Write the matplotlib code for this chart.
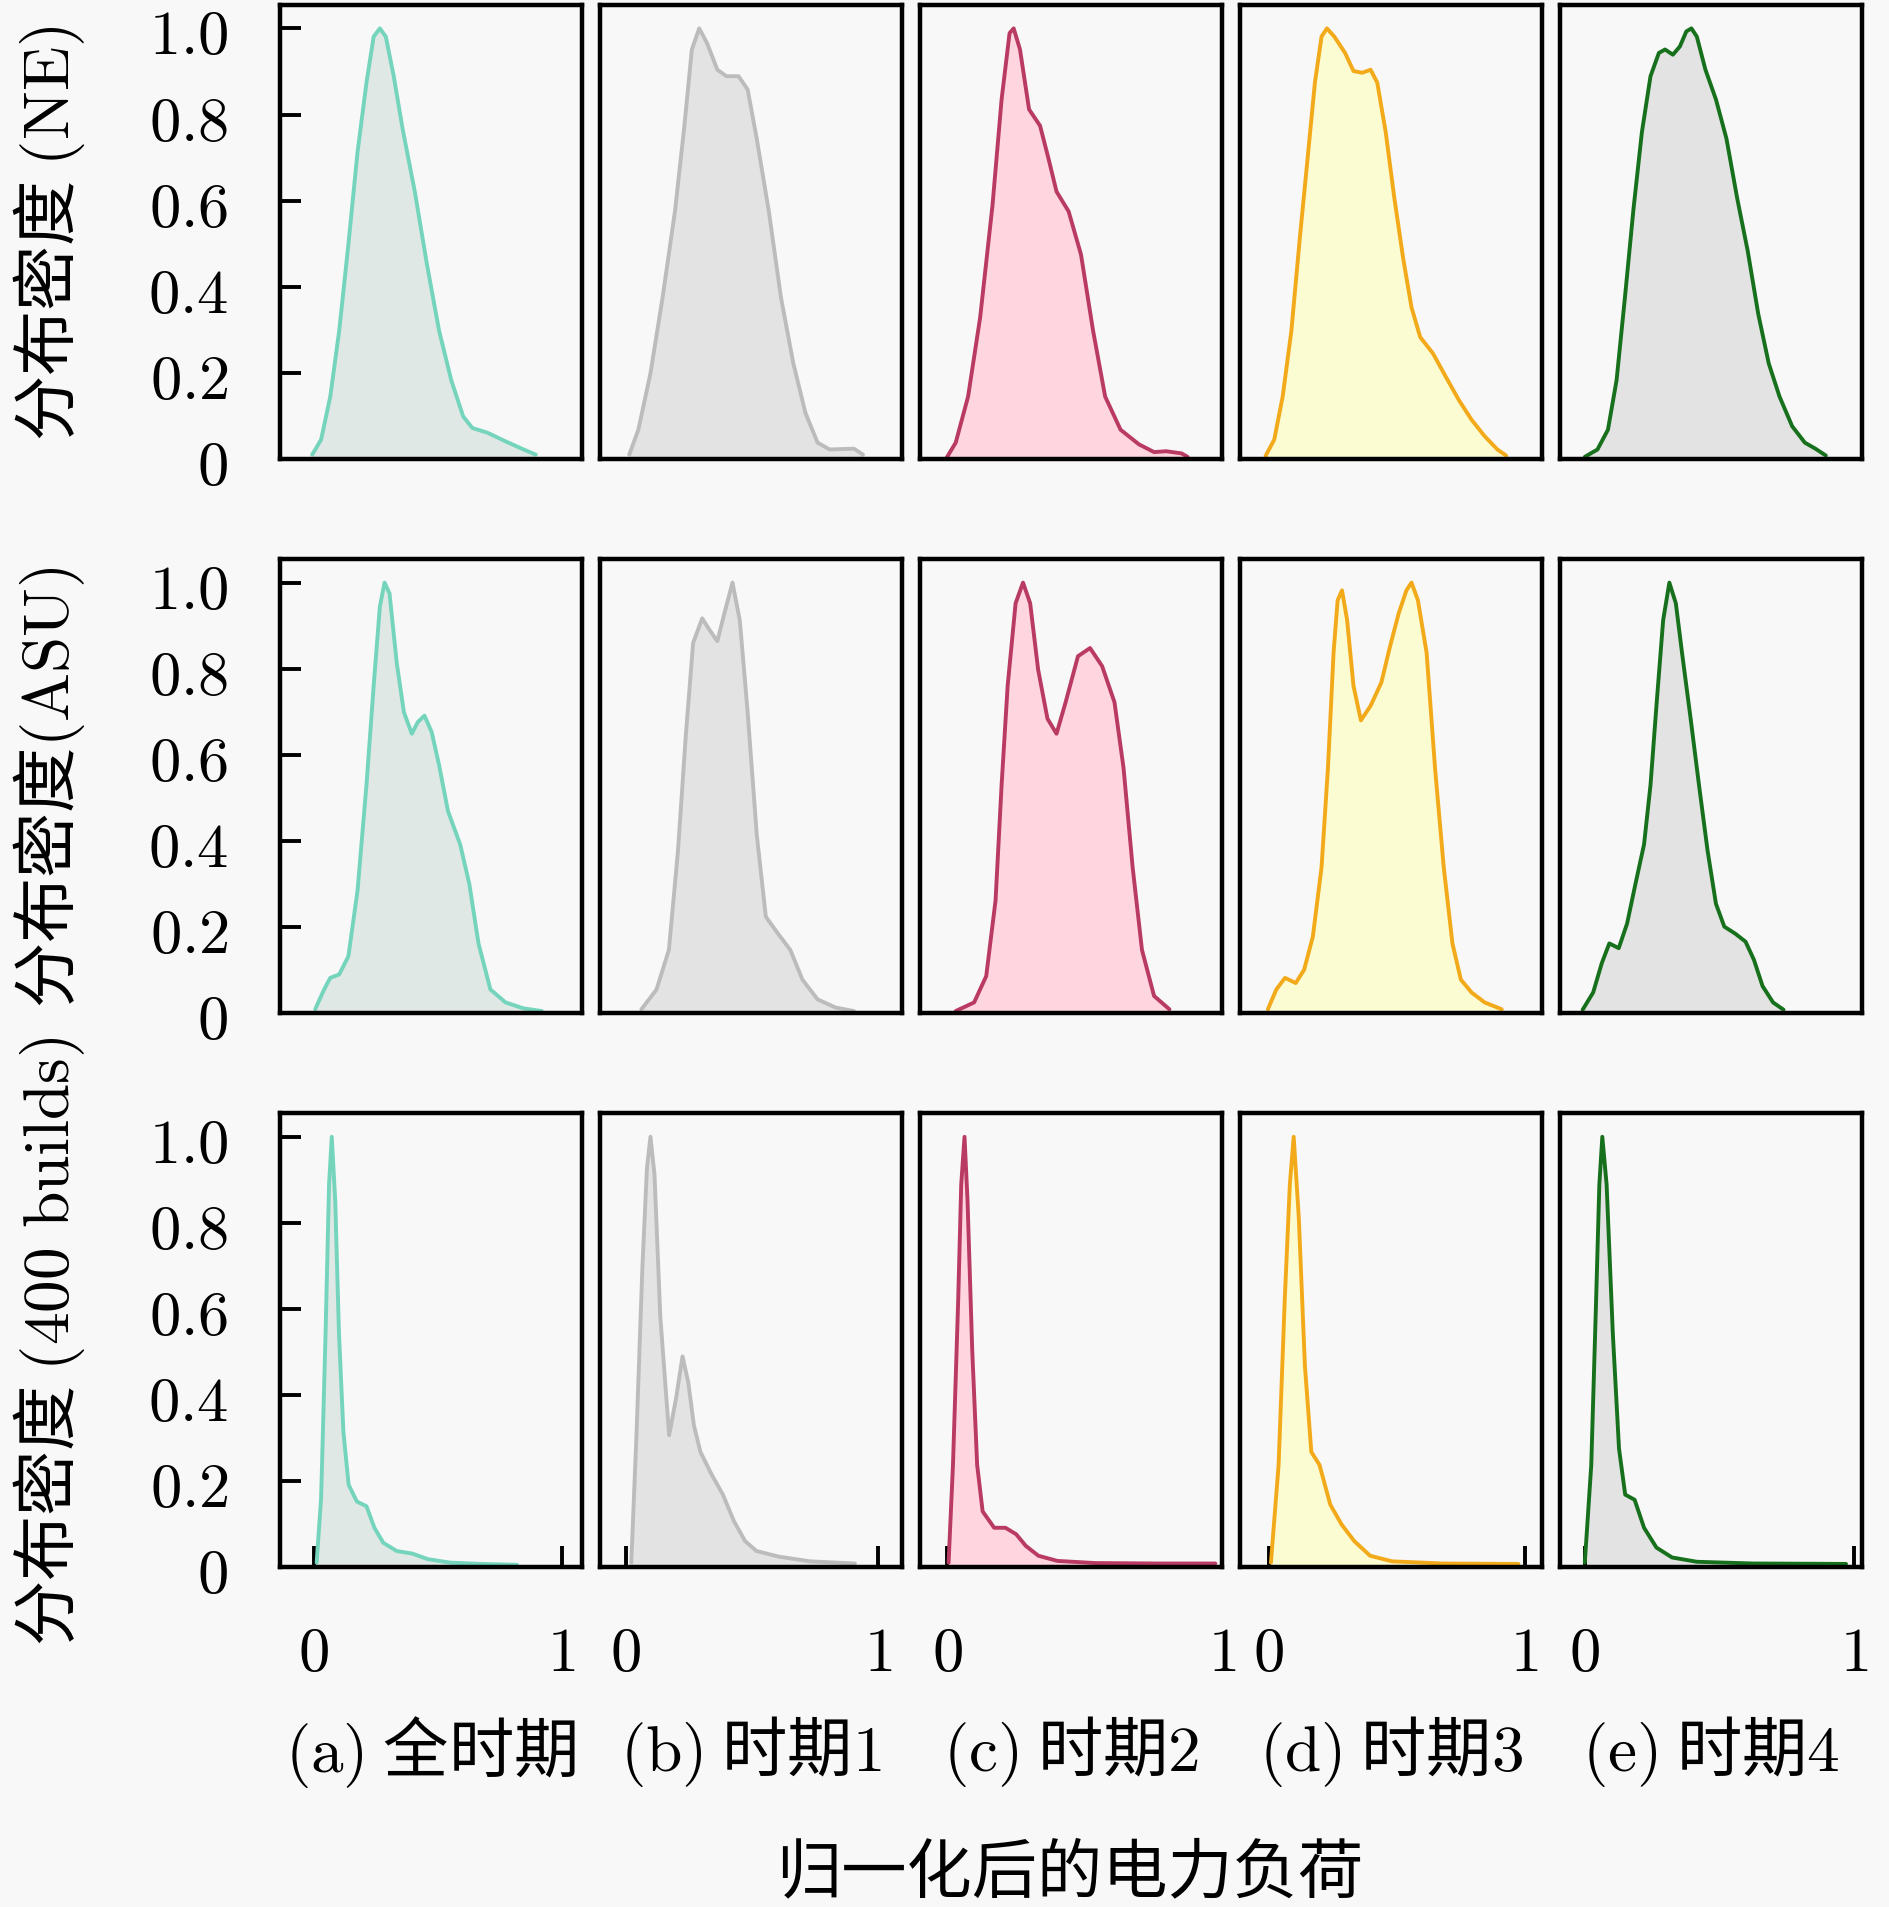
import matplotlib
matplotlib.use('Agg')
import matplotlib.pyplot as plt

plt.rcParams['mathtext.fontset'] = 'cm'
plt.rcParams['font.family'] = ['Noto Sans CJK SC', 'DejaVu Sans']

# panel titles and row labels
col_titles = [r'$\mathrm{(a)}$ 全时期', r'$\mathrm{(b)}$ 时期$1$', r'$\mathrm{(c)}$ 时期$2$',
              r'$\mathrm{(d)}$ 时期$3$', r'$\mathrm{(e)}$ 时期$4$']
row_labels = [r'分布密度 $\mathrm{(NE)}$', r'分布密度$\mathrm{(ASU)}$', r'分布密度 $\mathrm{(400\ builds)}$']
xlabel = '归一化后的电力负荷'
yticks = [0, 0.2, 0.4, 0.6, 0.8, 1.0]
ytick_labels = ['$0$', '$0.2$', '$0.4$', '$0.6$', '$0.8$', '$1.0$']
xticks = [0, 1]
xtick_labels = ['$0$', '$1$']

# ---- row 1: NE ----
ne_all_x = [-0.006, 0.03, 0.067, 0.103, 0.14, 0.177, 0.213, 0.242, 0.267, 0.291, 0.323, 0.359, 0.408,
            0.457, 0.506, 0.555, 0.603, 0.64, 0.701, 0.774, 0.847, 0.896]
ne_all_y = [0.01, 0.045, 0.145, 0.298, 0.498, 0.713, 0.874, 0.981, 1.0, 0.981, 0.889, 0.766, 0.621,
            0.452, 0.298, 0.183, 0.099, 0.072, 0.061, 0.041, 0.022, 0.01]
ne_p1_x = [0.014, 0.05, 0.098, 0.146, 0.195, 0.231, 0.262, 0.291, 0.322, 0.363, 0.399, 0.447, 0.483,
           0.519, 0.567, 0.615, 0.664, 0.712, 0.76, 0.808, 0.904, 0.94]
ne_p1_y = [0.01, 0.068, 0.199, 0.375, 0.575, 0.766, 0.951, 1.0, 0.966, 0.904, 0.889, 0.889, 0.858,
           0.744, 0.575, 0.375, 0.222, 0.107, 0.038, 0.022, 0.024, 0.01]
ne_p2_x = [-0.001, 0.032, 0.077, 0.121, 0.166, 0.199, 0.228, 0.243, 0.266, 0.299, 0.339, 0.37, 0.399,
           0.443, 0.488, 0.532, 0.576, 0.632, 0.699, 0.754, 0.798, 0.854, 0.876]
ne_p2_y = [0.003, 0.038, 0.145, 0.329, 0.59, 0.835, 0.989, 1.0, 0.951, 0.812, 0.774, 0.697, 0.621,
           0.575, 0.475, 0.298, 0.145, 0.068, 0.034, 0.016, 0.018, 0.013, 0.005]
ne_p3_x = [-0.013, 0.021, 0.054, 0.088, 0.121, 0.155, 0.18, 0.206, 0.227, 0.256, 0.298, 0.331, 0.365,
           0.398, 0.424, 0.457, 0.491, 0.525, 0.558, 0.592, 0.642, 0.692, 0.743, 0.793, 0.844, 0.894, 0.928]
ne_p3_y = [0.007, 0.045, 0.145, 0.298, 0.513, 0.72, 0.874, 0.981, 1.0, 0.981, 0.943, 0.901, 0.897,
           0.904, 0.874, 0.759, 0.605, 0.467, 0.352, 0.283, 0.245, 0.191, 0.137, 0.091, 0.053, 0.022, 0.008]
ne_p4_x = [0.001, 0.048, 0.087, 0.119, 0.15, 0.182, 0.213, 0.245, 0.276, 0.299, 0.328, 0.354, 0.378,
           0.397, 0.417, 0.449, 0.488, 0.527, 0.567, 0.606, 0.645, 0.684, 0.724, 0.771, 0.818, 0.857, 0.896]
ne_p4_y = [0.005, 0.022, 0.068, 0.183, 0.375, 0.582, 0.759, 0.889, 0.943, 0.951, 0.939, 0.958, 0.993,
           1.0, 0.981, 0.904, 0.835, 0.744, 0.605, 0.483, 0.337, 0.222, 0.145, 0.076, 0.038, 0.024, 0.008]

# ---- row 2: ASU ----
asu_all_x = [0.006, 0.042, 0.067, 0.103, 0.14, 0.177, 0.213, 0.242, 0.267, 0.286, 0.306, 0.335, 0.364,
             0.396, 0.42, 0.447, 0.476, 0.506, 0.542, 0.591, 0.628, 0.665, 0.713, 0.774, 0.847, 0.92]
asu_all_y = [0.009, 0.055, 0.082, 0.09, 0.132, 0.285, 0.53, 0.76, 0.944, 1.0, 0.975, 0.814, 0.699,
             0.649, 0.676, 0.691, 0.653, 0.576, 0.469, 0.392, 0.3, 0.162, 0.055, 0.025, 0.011, 0.005]
asu_p1_x = [0.062, 0.122, 0.171, 0.207, 0.238, 0.267, 0.303, 0.332, 0.363, 0.394, 0.423, 0.452, 0.483,
            0.519, 0.555, 0.603, 0.652, 0.7, 0.76, 0.832, 0.904]
asu_p1_y = [0.009, 0.055, 0.147, 0.377, 0.645, 0.86, 0.917, 0.89, 0.864, 0.936, 1.0, 0.912, 0.699,
            0.415, 0.224, 0.185, 0.147, 0.078, 0.032, 0.013, 0.005]
asu_p2_x = [0.032, 0.099, 0.143, 0.177, 0.199, 0.221, 0.25, 0.277, 0.303, 0.332, 0.366, 0.399, 0.432,
            0.477, 0.521, 0.565, 0.61, 0.643, 0.676, 0.71, 0.754, 0.81]
asu_p2_y = [0.005, 0.025, 0.086, 0.262, 0.53, 0.76, 0.952, 1.0, 0.952, 0.798, 0.684, 0.649, 0.722,
            0.829, 0.848, 0.806, 0.722, 0.569, 0.339, 0.147, 0.04, 0.009]
asu_p3_x = [-0.004, 0.029, 0.063, 0.105, 0.138, 0.172, 0.206, 0.231, 0.253, 0.269, 0.286, 0.306, 0.331,
            0.36, 0.398, 0.44, 0.474, 0.508, 0.538, 0.558, 0.583, 0.617, 0.65, 0.684, 0.718, 0.751, 0.793,
            0.844, 0.911]
asu_p3_y = [0.009, 0.055, 0.082, 0.07, 0.101, 0.178, 0.339, 0.569, 0.837, 0.959, 0.982, 0.913, 0.76,
            0.68, 0.714, 0.768, 0.852, 0.929, 0.982, 1.0, 0.959, 0.837, 0.569, 0.339, 0.162, 0.078, 0.048,
            0.025, 0.009]
asu_p4_x = [-0.007, 0.032, 0.064, 0.092, 0.127, 0.158, 0.189, 0.221, 0.245, 0.268, 0.292, 0.315, 0.339,
            0.362, 0.394, 0.425, 0.457, 0.488, 0.519, 0.559, 0.598, 0.629, 0.661, 0.7, 0.739]
asu_p4_y = [0.008, 0.048, 0.116, 0.162, 0.151, 0.208, 0.3, 0.392, 0.53, 0.722, 0.913, 1.0, 0.952,
            0.837, 0.684, 0.53, 0.377, 0.254, 0.201, 0.185, 0.166, 0.124, 0.063, 0.025, 0.008]

# ---- row 3: 400 builds ----
b400_all_x = [0.012, 0.03, 0.048, 0.062, 0.073, 0.087, 0.102, 0.12, 0.141, 0.174, 0.213, 0.245, 0.281,
              0.335, 0.398, 0.461, 0.551, 0.677, 0.82]
b400_all_y = [0.011, 0.161, 0.544, 0.889, 1.0, 0.851, 0.544, 0.314, 0.192, 0.153, 0.142, 0.092, 0.057,
              0.038, 0.032, 0.019, 0.011, 0.008, 0.006]
b400_p1_x = [0.022, 0.043, 0.066, 0.084, 0.098, 0.114, 0.137, 0.172, 0.199, 0.225, 0.248, 0.27, 0.296,
             0.341, 0.385, 0.429, 0.473, 0.518, 0.606, 0.73, 0.908]
b400_p1_y = [0.011, 0.314, 0.697, 0.927, 1.0, 0.912, 0.582, 0.307, 0.391, 0.49, 0.429, 0.33, 0.268,
             0.215, 0.169, 0.107, 0.061, 0.038, 0.025, 0.014, 0.009]
b400_p2_x = [0.006, 0.022, 0.041, 0.052, 0.064, 0.075, 0.092, 0.11, 0.13, 0.172, 0.213, 0.252, 0.287,
             0.333, 0.402, 0.54, 0.77, 0.977]
b400_p2_y = [0.011, 0.238, 0.621, 0.889, 1.0, 0.851, 0.506, 0.238, 0.13, 0.092, 0.092, 0.077, 0.05,
             0.027, 0.015, 0.01, 0.009, 0.009]
b400_p3_x = [0.008, 0.038, 0.062, 0.082, 0.097, 0.117, 0.141, 0.166, 0.198, 0.24, 0.284, 0.334, 0.396,
             0.482, 0.679, 0.976]
b400_p3_y = [0.011, 0.238, 0.621, 0.889, 1.0, 0.812, 0.467, 0.268, 0.238, 0.146, 0.1, 0.061, 0.027,
             0.014, 0.009, 0.008]
b400_p4_x = [0.001, 0.025, 0.043, 0.055, 0.066, 0.082, 0.105, 0.128, 0.151, 0.186, 0.221, 0.267, 0.325,
             0.417, 0.625, 0.971]
b400_p4_y = [0.011, 0.238, 0.621, 0.889, 1.0, 0.889, 0.544, 0.276, 0.169, 0.157, 0.092, 0.046, 0.023,
             0.013, 0.009, 0.008]

curves = [
    [(ne_all_x, ne_all_y), (ne_p1_x, ne_p1_y), (ne_p2_x, ne_p2_y), (ne_p3_x, ne_p3_y), (ne_p4_x, ne_p4_y)],
    [(asu_all_x, asu_all_y), (asu_p1_x, asu_p1_y), (asu_p2_x, asu_p2_y), (asu_p3_x, asu_p3_y), (asu_p4_x, asu_p4_y)],
    [(b400_all_x, b400_all_y), (b400_p1_x, b400_p1_y), (b400_p2_x, b400_p2_y), (b400_p3_x, b400_p3_y), (b400_p4_x, b400_p4_y)],
]

line_colors = ['#74d4bc', '#bcbcbc', '#b93a62', '#f2aa1a', '#17701c']
fill_colors = ['#dfe8e5', '#e3e3e3', '#ffd5e0', '#fcfcd2', '#e3e3e3']
col_xlims = [(-0.137, 1.081), (-0.103, 1.093), (-0.099, 1.0), (-0.114, 1.067), (-0.092, 1.029)]

bg = '#f8f8f8'
fig, axes = plt.subplots(3, 5, figsize=(18.9, 19.08), dpi=100, sharex='col', sharey=True)
fig.patch.set_facecolor(bg)
fig.subplots_adjust(left=0.148, right=0.985, top=0.997, bottom=0.178, wspace=0.06, hspace=0.22)

for r in range(3):
    for c in range(5):
        ax = axes[r, c]
        ax.set_facecolor(bg)
        x, y = curves[r][c]
        ax.fill_between(x, y, 0, color=fill_colors[c], lw=0)
        ax.plot(x, y, color=line_colors[c], lw=2.8, solid_joinstyle='round', solid_capstyle='round')
        ax.set_xlim(col_xlims[c])
        ax.set_ylim(0, 1.055)
        for s in ax.spines.values():
            s.set_linewidth(3.2)
            s.set_color('black')
        ax.tick_params(direction='in', length=15, width=2.8, labelsize=45)
        ax.tick_params(axis='y', pad=37)
        ax.tick_params(axis='x', pad=38)
        if c > 0:
            ax.tick_params(axis='y', left=False)
        if r < 2:
            ax.tick_params(axis='x', bottom=False)

axes[0, 0].set_yticks(yticks)
axes[0, 0].set_yticklabels(ytick_labels)
for c in range(5):
    axes[2, c].set_xticks(xticks)
    axes[2, c].set_xticklabels(xtick_labels)

# row labels on the left
for r in range(3):
    pos = axes[r, 0].get_position()
    fig.text(0.026, (pos.y0 + pos.y1) / 2, row_labels[r], rotation=90,
             ha='center', va='center', fontsize=47)

# column titles under the bottom row
for c in range(5):
    pos = axes[2, c].get_position()
    fig.text((pos.x0 + pos.x1) / 2, 0.0818, col_titles[c], ha='center', va='center', fontsize=47)

fig.text(0.566, 0.018, xlabel, ha='center', va='center', fontsize=47)

fig.savefig('out.png', dpi=100, facecolor=bg)
